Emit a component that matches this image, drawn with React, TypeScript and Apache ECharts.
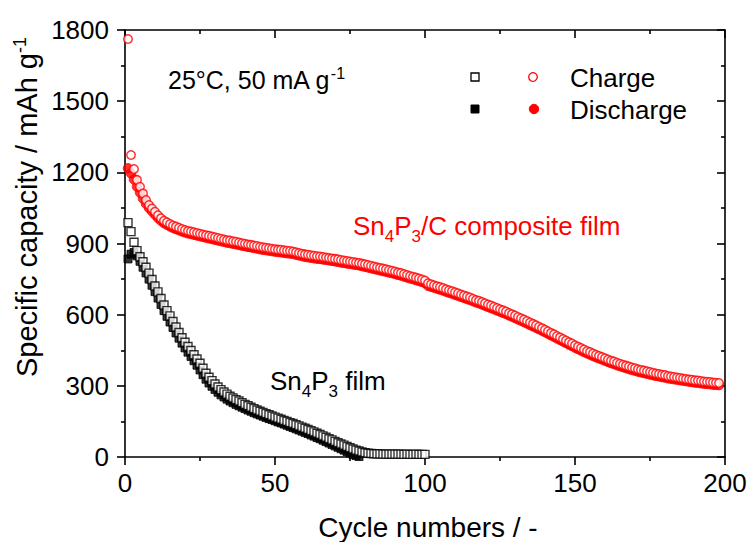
import React, { useEffect, useRef } from "react";
import * as echarts from "echarts";

// Sn4P3/C composite film (red), cycles 1..198
const compositeCharge = [
  1762, 1273, 1214, 1168, 1139, 1111, 1083, 1062, 1047, 1034,
  1019, 1006, 996, 989, 982, 976, 971, 966, 961, 957,
  953, 950, 947, 944, 941, 938, 935, 932, 929, 926,
  923, 920, 917, 914, 912, 909, 907, 904, 901, 899,
  896, 894, 891, 889, 886, 884, 882, 880, 878, 876,
  874, 873, 871, 869, 868, 866, 863, 860, 857, 854,
  852, 850, 848, 846, 845, 843, 841, 839, 837, 835,
  833, 830, 828, 826, 824, 822, 820, 818, 815, 812,
  809, 806, 803, 800, 797, 794, 791, 788, 785, 782,
  778, 775, 771, 767, 763, 760, 756, 752, 748, 744,
  732, 728, 724, 720, 716, 712, 707, 703, 699, 694,
  690, 685, 681, 676, 672, 667, 662, 658, 653, 648,
  643, 638, 633, 628, 623, 618, 613, 607, 602, 596,
  590, 585, 579, 573, 567, 561, 555, 549, 543, 536,
  530, 523, 517, 510, 504, 497, 491, 484, 478, 471,
  465, 459, 453, 447, 442, 436, 431, 426, 421, 416,
  411, 406, 402, 397, 393, 389, 385, 381, 377, 374,
  370, 367, 364, 361, 358, 355, 352, 350, 347, 345,
  341, 339, 337, 335, 333, 331, 329, 327, 325, 323,
  322, 320, 318, 317, 316, 314, 313, 312,
];
const compositeDischarge = [
  1217, 1196, 1170, 1140, 1115, 1090, 1068, 1050, 1036, 1022,
  1008, 996, 986, 979, 972, 966, 961, 956, 951, 947,
  943, 940, 937, 934, 931, 928, 925, 922, 919, 916,
  913, 910, 907, 904, 902, 899, 897, 894, 891, 889,
  886, 884, 881, 879, 876, 874, 872, 870, 868, 866,
  864, 863, 861, 859, 858, 856, 853, 850, 847, 844,
  842, 840, 838, 836, 835, 833, 831, 829, 827, 825,
  823, 820, 818, 816, 814, 812, 810, 808, 805, 802,
  799, 796, 793, 790, 787, 784, 781, 778, 775, 772,
  768, 765, 761, 757, 753, 750, 746, 742, 738, 734,
  722, 718, 714, 710, 706, 702, 697, 693, 689, 684,
  680, 675, 671, 666, 662, 657, 652, 648, 643, 638,
  633, 628, 623, 618, 613, 608, 603, 597, 592, 586,
  580, 575, 569, 563, 557, 551, 545, 539, 533, 526,
  520, 513, 507, 500, 494, 487, 481, 474, 468, 461,
  455, 449, 443, 437, 432, 426, 421, 416, 411, 406,
  401, 396, 392, 387, 383, 379, 375, 371, 367, 364,
  360, 357, 354, 351, 348, 345, 342, 340, 337, 335,
  332, 330, 328, 326, 324, 322, 320, 318, 316, 314,
  313, 311, 309, 308, 307, 305, 304, 303,
];

// Sn4P3 film (black), cycles 1..100
const filmCharge = [
  988, 950, 905, 870, 844, 823, 800, 775, 748, 721,
  696, 668, 641, 617, 595, 571, 548, 525, 503, 484,
  466, 449, 431, 413, 395, 374, 353, 336, 322, 308,
  295, 284, 274, 265, 256, 249, 242, 236, 229, 222,
  216, 210, 204, 198, 193, 188, 183, 178, 173, 168,
  164, 159, 154, 150, 145, 141, 136, 131, 126, 121,
  116, 111, 106, 100, 95, 89, 83, 77, 72, 66,
  60, 55, 50, 44, 39, 34, 29, 25, 21, 18,
  16, 15, 14, 13, 13, 12, 12, 12, 12, 12,
  12, 12, 11, 12, 11, 11, 12, 11, 11, 11,
];
const filmDischarge = [
  835, 855, 862, 848, 825, 800, 776, 750, 724, 697,
  670, 643, 617, 593, 569, 546, 523, 501, 480, 460,
  442, 424, 406, 387, 367, 347, 328, 312, 298, 285,
  273, 262, 253, 244, 236, 229, 222, 216, 210, 204,
  198, 193, 187, 182, 177, 172, 167, 162, 158, 153,
  148, 144, 139, 134, 129, 124, 119, 114, 109, 104,
  99, 93, 88, 82, 77, 71, 65, 59, 53, 47,
  41, 35, 29, 23, 17, 11, 6, 2,
];

const xTicks = { min: 0, max: 200, interval: 50 };
const yTicks = { min: 0, max: 1800, interval: 300 };

const FONT = "'Liberation Sans', Arial, Helvetica, sans-serif";

const toPoints = (arr: number[]) => arr.map((v, i) => [i + 1, v]);

export default function App() {
  const ref = useRef<HTMLDivElement>(null);
  useEffect(() => {
    if (!ref.current) return;
    const chart = echarts.init(ref.current, undefined, { renderer: "svg" });
    const lineStyle = { color: "#000", width: 1.6 };
    const baseAxis = (show: boolean, inside: boolean) => ({
      type: "value" as const,
      axisLine: { show: true, onZero: false, lineStyle },
      axisTick: { show: true, inside, length: 8, lineStyle },
      minorTick: { show: true, splitNumber: 2, length: 4, lineStyle },
      splitLine: { show: false },
      minorSplitLine: { show: false },
      axisLabel: {
        show,
        color: "#000",
        fontSize: 26,
        fontFamily: FONT,
        formatter: (v: number) => String(v),
      },
    });
    const xb = baseAxis(true, false);
    const xt = baseAxis(false, true);
    const yl = baseAxis(true, false);
    const yr = baseAxis(false, true);
    const option: any = {
      animation: false,
      backgroundColor: "#fff",
      grid: { left: 125, right: 25, top: 30, bottom: 85, containLabel: false },
      xAxis: [
        { ...xb, ...xTicks, position: "bottom", axisLabel: { ...xb.axisLabel, margin: 13 } },
        { ...xt, ...xTicks, position: "top" },
      ],
      yAxis: [
        { ...yl, ...yTicks, position: "left", axisLabel: { ...yl.axisLabel, margin: 16 } },
        { ...yr, ...yTicks, position: "right" },
      ],
      series: [
        {
          name: "Sn4P3 discharge",
          type: "scatter",
          symbol: "rect",
          symbolSize: 8,
          data: toPoints(filmDischarge),
          itemStyle: { color: "#000", borderColor: "#000", borderWidth: 1 },
        },
        {
          name: "Sn4P3 charge",
          type: "scatter",
          symbol: "rect",
          symbolSize: 8,
          data: toPoints(filmCharge),
          itemStyle: { color: "#fff", borderColor: "#000", borderWidth: 1.4 },
        },
        {
          name: "Sn4P3/C discharge",
          type: "scatter",
          symbol: "circle",
          symbolSize: 9.5,
          data: toPoints(compositeDischarge),
          itemStyle: { color: "#ff0000", borderColor: "#ff0000", borderWidth: 1 },
        },
        {
          name: "Sn4P3/C charge",
          type: "scatter",
          symbol: "circle",
          symbolSize: 8.5,
          data: toPoints(compositeCharge),
          itemStyle: { color: "#fff", borderColor: "#ff0000", borderWidth: 1.5 },
        },
      ],
      graphic: [
        {
          type: "text",
          x: 168,
          y: 80,
          style: {
            text: "{m|25°C, 50 mA g}{p|-1}",
            verticalAlign: "middle",
            textVerticalAlign: "middle",
            rich: {
              m: { fontSize: 25, fontFamily: FONT, fill: "#000" },
              p: { fontSize: 16, fontFamily: FONT, fill: "#000", padding: [0, 0, 14, 0] },
            },
          },
        },
        {
          type: "rect",
          shape: { x: 471, y: 73, width: 8, height: 8 },
          style: { fill: "#fff", stroke: "#000", lineWidth: 1.3 },
        },
        {
          type: "circle",
          shape: { cx: 533, cy: 77, r: 4.3 },
          style: { fill: "#fff", stroke: "#ff0000", lineWidth: 1.3 },
        },
        {
          type: "rect",
          shape: { x: 471, y: 105, width: 8, height: 8 },
          style: { fill: "#000", stroke: "#000", lineWidth: 1 },
        },
        {
          type: "circle",
          shape: { cx: 534, cy: 109, r: 4.7 },
          style: { fill: "#ff0000", stroke: "#ff0000", lineWidth: 1 },
        },
        {
          type: "text",
          x: 570,
          y: 78,
          style: {
            text: "Charge",
            fontSize: 26,
            fontFamily: FONT,
            fill: "#000",
            verticalAlign: "middle",
            textVerticalAlign: "middle",
          },
        },
        {
          type: "text",
          x: 570,
          y: 110,
          style: {
            text: "Discharge",
            fontSize: 26,
            fontFamily: FONT,
            fill: "#000",
            verticalAlign: "middle",
            textVerticalAlign: "middle",
          },
        },
        {
          type: "text",
          x: 353,
          y: 226,
          style: {
            text: "{m|Sn}{s|4}{m|P}{s|3}{m|/C composite film}",
            verticalAlign: "middle",
            textVerticalAlign: "middle",
            rich: {
              m: { fontSize: 26, fontFamily: FONT, fill: "#ff0000" },
              s: { fontSize: 17, fontFamily: FONT, fill: "#ff0000", padding: [20, 0, 0, 0] },
            },
          },
        },
        {
          type: "text",
          x: 270,
          y: 381,
          style: {
            text: "{m|Sn}{s|4}{m|P}{s|3}{m| film}",
            verticalAlign: "middle",
            textVerticalAlign: "middle",
            rich: {
              m: { fontSize: 26, fontFamily: FONT, fill: "#000" },
              s: { fontSize: 17, fontFamily: FONT, fill: "#000", padding: [20, 0, 0, 0] },
            },
          },
        },
        {
          type: "text",
          x: 27,
          y: 207,
          rotation: Math.PI / 2,
          style: {
            text: "{m|Specific capacity / mAh g}{p|-1}",
            align: "center",
            textAlign: "center",
            verticalAlign: "middle",
            textVerticalAlign: "middle",
            rich: {
              m: { fontSize: 29, fontFamily: FONT, fill: "#000" },
              p: { fontSize: 18, fontFamily: FONT, fill: "#000", padding: [0, 0, 15, 0] },
            },
          },
        },
        {
          type: "text",
          x: 428,
          y: 527,
          style: {
            text: "Cycle numbers / -",
            fontSize: 28,
            fontFamily: FONT,
            fill: "#000",
            align: "center",
            textAlign: "center",
            verticalAlign: "middle",
            textVerticalAlign: "middle",
          },
        },
      ],
    };
    chart.setOption(option);
    return () => chart.dispose();
  }, []);
  return (
    <div
      ref={ref}
      style={{ position: "fixed", left: 0, top: 0, width: 750, height: 542, background: "#fff" }}
    />
  );
}
